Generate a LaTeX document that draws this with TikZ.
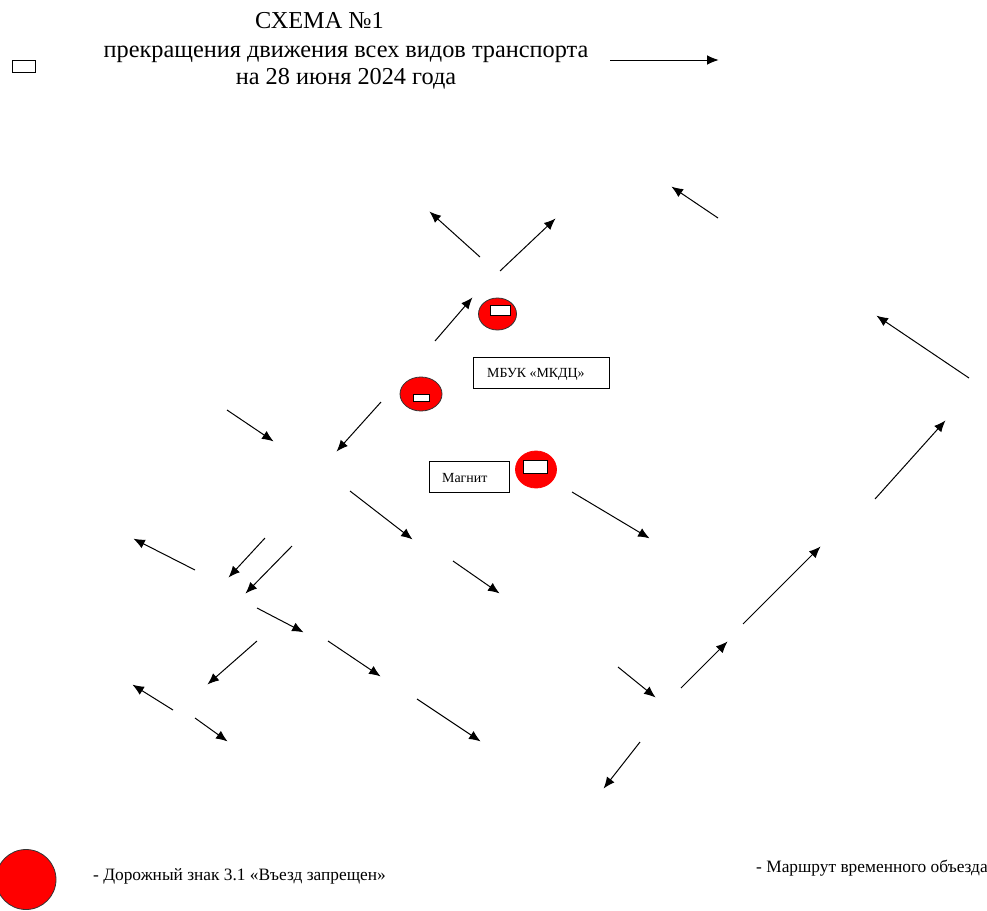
\documentclass[tikz,border=0pt]{standalone}
\usepackage{fontspec}
\setmainfont{Liberation Serif}
\usetikzlibrary{arrows.meta,shapes.geometric}
\definecolor{signred}{RGB}{255,0,0}
\newcounter{arrowno}
\newcommand{\routearrow}[2]{%
  \stepcounter{arrowno}%
  \coordinate (t\thearrowno) at (#1);
  \coordinate (h\thearrowno) at (#2);
  \draw[routearrow] (t\thearrowno) -- (h\thearrowno);
}
\tikzset{
  routearrow/.style={line width=1pt,-{Latex[length=11.5pt,width=9.5pt]},shorten >=-0.7pt},
  signdisc/.style={ellipse,draw=black!80,fill=signred,line width=0.8pt,inner sep=0pt},
  signbar/.style={rectangle,draw=black,fill=white,line width=0.9pt,inner sep=0pt},
  labelbox/.style={rectangle,draw=black,fill=white,line width=0.9pt,inner sep=0pt},
  boxtext/.style={inner sep=0pt,anchor=base west,font=\fontsize{13.9}{15}\selectfont},
  titletext/.style={anchor=base,inner sep=0pt,font=\fontsize{24.3}{29}\selectfont},
  legendtext/.style={anchor=base west,inner sep=0pt,font=\fontsize{17.35}{20}\selectfont}
}
\begin{document}
\begin{tikzpicture}[x=1pt,y=-1pt]
\useasboundingbox (0,0) rectangle (987,910);
\node[titletext] (title1) at (319.5,28) {СХЕМА №1};
\node[titletext] (title2) at (346,57) {прекращения движения всех видов транспорта};
\node[titletext] (title3) at (346,84) {на 28 июня 2024 года};
\node[signbar,minimum width=23pt,minimum height=12pt] (legendbar) at (23.5,66) {};
\routearrow{610,60}{718,60}
\routearrow{718,218}{672,187}
\routearrow{480,257}{430,212}
\routearrow{500,271}{555,219}
\routearrow{435,341}{472,298}
\routearrow{381,402}{337,451}
\routearrow{227,410}{273,441}
\routearrow{969,378}{877,316}
\routearrow{875,499}{945,421}
\routearrow{572,492}{649,538}
\routearrow{350,491}{412,539}
\routearrow{453,561}{499,593}
\routearrow{265,538}{229,577}
\routearrow{292,546}{246,593}
\routearrow{195,570}{134,539}
\routearrow{257,608}{303,632}
\routearrow{257,641}{208,684}
\routearrow{328,641}{380,676}
\routearrow{173,710}{133,685}
\routearrow{195,718}{227,741}
\routearrow{417,699}{480,741}
\routearrow{618,667}{655,697}
\routearrow{681,688}{727,642}
\routearrow{743,624}{820,547}
\routearrow{640,742}{604,788}
\node[signdisc,minimum width=38pt,minimum height=32pt] (sign1) at (497.5,314) {};
\node[signbar,minimum width=20pt,minimum height=10pt] (bar1) at (500,310) {};
\node[signdisc,minimum width=42pt,minimum height=34pt] (sign2) at (421,394) {};
\node[signbar,minimum width=16pt,minimum height=7pt] (bar2) at (421,397.5) {};
\node[signdisc,draw=signred,minimum width=41pt,minimum height=37pt] (sign3) at (536,469.5) {};
\node[signbar,minimum width=24pt,minimum height=13pt] (bar3) at (535.5,467) {};
\node[labelbox,minimum width=136pt,minimum height=31pt] (mkdc) at (541,372.5) {};
\node[boxtext] (mkdctext) at (487,377) {МБУК «МКДЦ»};
\node[labelbox,minimum width=80pt,minimum height=31pt] (magnit) at (469,476.5) {};
\node[boxtext] (magnittext) at (442,482) {Магнит};
\node[signdisc,minimum width=60pt,minimum height=60pt] (legendsign) at (26,879.5) {};
\node[legendtext] (legend1) at (93,880) {- Дорожный знак 3.1 «Въезд запрещен»};
\node[legendtext] (legend2) at (756,872) {- Маршрут временного объезда};
\end{tikzpicture}
\end{document}
